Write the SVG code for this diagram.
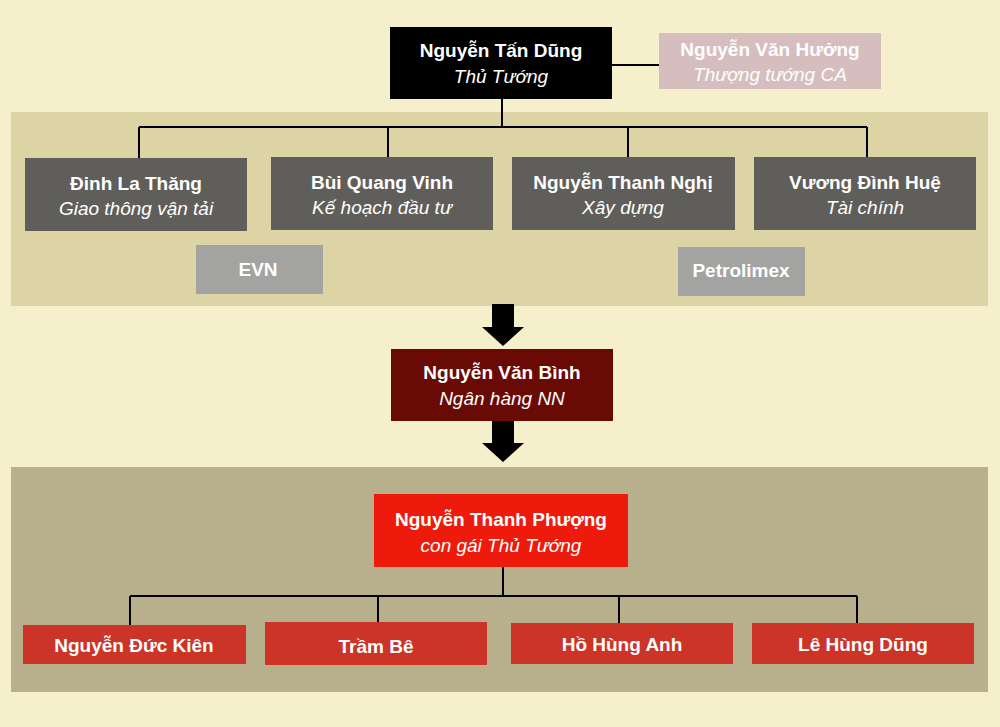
<svg xmlns="http://www.w3.org/2000/svg" width="1000" height="727" viewBox="0 0 1000 727">
<style>
text{font-family:"Liberation Sans",Arial,sans-serif;fill:#fff;text-anchor:middle}
.b{font-weight:bold;font-size:19px}
.i{font-style:italic;font-size:19px}
.g{fill:#5f5e5a}
.r{fill:#cc3428}
.ln{stroke:#000;stroke-width:2;fill:none}
</style>
<rect width="1000" height="727" fill="#f6efcc"/>
<rect x="11" y="112" width="977" height="194" fill="#ddd4a6"/>
<rect x="11" y="467" width="977" height="225" fill="#b8b08c"/>
<g id="connectors">
<path class="ln" d="M502 98V127M139 127H867M139 127V158M388 127V158M628 127V158M867 127V158M610 65H660"/>
<path class="ln" d="M503 567V596M130 596H857M130 596V625M378 596V622M619 596V623M857 596V623"/>
<path d="M492 304H514V327H524L503 346L482 327H492Z" fill="#000"/>
<path d="M492 420H514V443H524L503 462L482 443H492Z" fill="#000"/>
</g>
<g id="n-dung"><rect x="390" y="27" width="222" height="72" fill="#000"/><text class="b" x="501" y="57">Nguyễn Tấn Dũng</text><text class="i" x="501" y="83">Thủ Tướng</text></g>
<g id="n-huong"><rect x="659" y="33" width="222" height="56" fill="#d5bebd"/><text class="b" x="770" y="56">Nguyễn Văn Hưởng</text><text class="i" x="770" y="81">Thượng tướng CA</text></g>
<g id="n-thang"><rect class="g" x="25" y="158" width="222" height="73"/><text class="b" x="136" y="190">Đinh La Thăng</text><text class="i" x="136" y="215">Giao thông vận tải</text></g>
<g id="n-vinh"><rect class="g" x="271" y="157" width="222" height="73"/><text class="b" x="382" y="189">Bùi Quang Vinh</text><text class="i" x="382" y="214">Kế hoạch đầu tư</text></g>
<g id="n-nghi"><rect class="g" x="512" y="157" width="223" height="73"/><text class="b" x="623" y="189">Nguyễn Thanh Nghị</text><text class="i" x="623" y="214">Xây dựng</text></g>
<g id="n-hue"><rect class="g" x="754" y="157" width="222" height="73"/><text class="b" x="865" y="189">Vương Đình Huệ</text><text class="i" x="865" y="214">Tài chính</text></g>
<g id="n-evn"><rect x="196" y="245" width="127" height="49" fill="#a3a3a1"/><text class="b" x="258" y="276">EVN</text></g>
<g id="n-petro"><rect x="678" y="247" width="127" height="49" fill="#a3a3a1"/><text class="b" x="741" y="277">Petrolimex</text></g>
<g id="n-binh"><rect x="391" y="349" width="222" height="72" fill="#6a0a04"/><text class="b" x="502" y="379">Nguyễn Văn Bình</text><text class="i" x="502" y="405">Ngân hàng NN</text></g>
<g id="n-phuong"><rect x="374" y="494" width="254" height="73" fill="#ee1b0c"/><text class="b" x="501" y="526">Nguyễn Thanh Phượng</text><text class="i" x="501" y="552">con gái Thủ Tướng</text></g>
<g id="n-kien"><rect class="r" x="23" y="625" width="223" height="39"/><text class="b" x="134" y="652">Nguyễn Đức Kiên</text></g>
<g id="n-be"><rect class="r" x="265" y="622" width="222" height="43"/><text class="b" x="376" y="653">Trầm Bê</text></g>
<g id="n-anh"><rect class="r" x="511" y="623" width="222" height="41"/><text class="b" x="622" y="651">Hồ Hùng Anh</text></g>
<g id="n-lhd"><rect class="r" x="752" y="623" width="222" height="41"/><text class="b" x="863" y="651">Lê Hùng Dũng</text></g>
</svg>
